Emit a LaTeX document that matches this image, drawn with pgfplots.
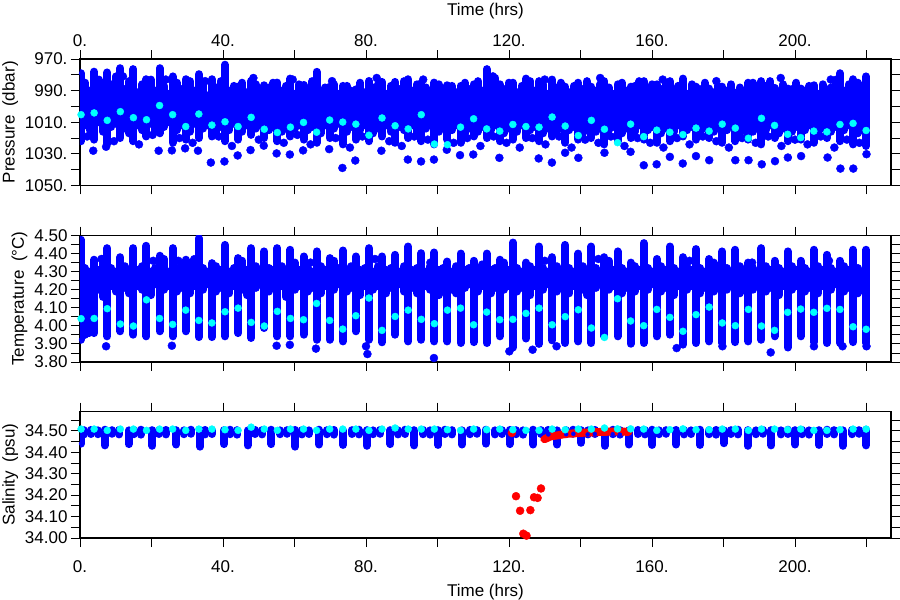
\documentclass[border=0pt]{standalone}
\usepackage{fontspec}
\setmainfont{Liberation Sans}
\usepackage{pgfplots}
\usepackage{pgfplotstable}
\pgfplotsset{compat=1.18}

% ---------- Pressure columns (t, top, bottom) ----------
\pgfplotstableread{
t lo hi
0.3 979 1022
3.96 978 1021
7.62 978.5 1024
11.28 975.8 1020
14.94 976.4 1022
18.6 982.8 1019
22.26 975.8 1017
25.92 981 1023
29.58 982.8 1021
33.24 979.6 1020
36.9 982.8 1019
40.56 973.6 1022
44.22 987.5 1021
47.88 983.9 1018
51.54 986.6 1020
55.2 984.9 1022
58.86 982.4 1019
62.52 986.4 1021
66.18 978.1 1023
69.84 987.5 1020
73.5 987 1024
77.16 989.2 1021
80.82 983.9 1022
84.48 984.5 1019
88.14 984.5 1023
91.8 982.8 1020
95.46 985.4 1022
99.12 984.9 1024
102.78 986.6 1021
106.44 987 1023
110.1 986 1019
113.76 976.4 1020
117.42 986 1022
121.08 985 1021
124.74 982.4 1020
128.4 984 1022
132.06 983 1019
135.72 987.5 1023
139.38 985 1021
143.04 987.5 1020
146.7 984 1024
150.36 986 1022
154.02 987.5 1020
157.68 984 1021
161.34 986 1023
165.0 984 1022
168.66 982.4 1019
172.32 987.5 1021
175.98 988.7 1020
179.64 987.5 1023
183.3 991.3 1022
186.96 985 1021
190.62 984 1024
194.28 988.3 1020
197.94 988.7 1022
201.6 988.7 1021
205.26 986.6 1023
208.92 989.2 1020
212.58 979 1022
216.24 982.8 1024
219.9 981 1025
1.5 985 1012
2.7 990 1015
5.2 983 1010
6.4 988 1016
8.8 986 1013
10.0 981 1011
12.5 989 1014
13.7 984 1017
16.1 991 1012
17.4 986 1015
19.8 983 1011
21.0 990 1016
23.5 987 1013
24.7 992 1010
27.1 985 1015
28.4 989 1012
30.8 984 1016
32.0 990 1011
34.5 986 1014
35.7 993 1012
38.1 988 1017
39.3 984 1013
41.8 990 1015
43.0 987 1011
45.4 985 1016
46.7 991 1012
49.1 986 1014
50.3 992 1010
52.8 988 1015
54.0 985 1013
56.4 990 1016
57.6 987 1011
60.1 992 1014
61.3 986 1012
63.7 989 1015
65.0 984 1013
67.4 991 1017
68.6 988 1012
71.1 986 1014
72.3 992 1011
74.7 987 1016
75.9 990 1013
78.4 985 1015
79.6 991 1012
82.0 988 1017
83.3 986 1014
85.7 992 1012
86.9 987 1016
89.4 989 1013
90.6 984 1015
93.0 990 1012
94.2 986 1017
96.7 988 1014
97.9 992 1011
100.3 986 1016
101.6 990 1013
104.0 987 1015
105.2 991 1012
107.7 985 1017
108.9 989 1014
111.3 984 1016
112.5 990 1013
115.0 986 1015
116.2 982 1012
118.6 989 1017
119.9 985 1014
122.3 991 1016
123.5 987 1012
126.0 984 1015
127.2 990 1013
129.6 986 1017
130.8 992 1014
133.3 988 1016
134.5 985 1012
136.9 991 1015
138.2 987 1013
140.6 989 1017
141.8 984 1014
144.3 990 1016
145.5 986 1012
147.9 988 1015
149.1 992 1013
151.6 985 1017
152.8 990 1014
155.2 987 1016
156.5 984 1012
158.9 991 1015
160.1 986 1013
162.6 989 1017
163.8 985 1014
166.2 990 1016
167.4 987 1012
169.9 992 1015
171.1 986 1013
173.5 989 1017
174.8 985 1014
177.2 991 1016
178.4 987 1013
180.9 990 1015
182.1 986 1012
184.5 988 1017
185.7 992 1014
188.2 985 1016
189.4 990 1013
191.8 987 1015
193.1 984 1012
195.5 991 1017
196.7 986 1014
199.2 989 1016
200.4 985 1013
202.8 990 1015
204.0 987 1012
206.5 992 1017
207.7 986 1014
210.1 988 1016
211.4 983 1013
213.8 990 1015
215.0 986 1012
217.5 985 1017
218.7 989 1014
}\pcols

% ---------- Temperature columns (t, bottom, top) ----------
\pgfplotstableread{
t lo hi
0.3 3.923 4.476
3.96 3.960 4.366
7.62 3.942 4.430
11.28 3.970 4.380
14.94 3.951 4.430
18.6 3.942 4.443
22.26 3.970 4.388
25.92 3.942 4.430
29.58 3.970 4.366
33.24 3.938 4.485
36.9 3.938 4.347
40.56 3.942 4.448
44.22 3.960 4.375
47.88 3.933 4.430
51.54 3.988 4.412
55.2 3.942 4.430
58.86 3.942 4.421
62.52 3.951 4.384
66.18 3.923 4.412
69.84 3.923 4.375
73.5 3.914 4.417
77.16 3.970 4.384
80.82 3.923 4.430
84.48 3.909 4.384
88.14 3.951 4.393
91.8 3.914 4.439
95.46 3.923 4.402
99.12 3.914 4.406
102.78 3.914 4.356
106.44 3.905 4.400
110.1 3.910 4.360
113.76 3.905 4.400
117.42 3.942 4.366
121.08 3.880 4.461
124.74 3.930 4.350
128.4 3.900 4.439
132.06 3.920 4.380
135.72 3.905 4.448
139.38 3.914 4.400
143.04 3.905 4.439
146.7 3.942 4.380
150.36 3.942 4.412
154.02 3.901 4.350
157.68 3.905 4.458
161.34 3.942 4.370
165.0 3.951 4.439
168.66 3.896 4.380
172.32 3.905 4.425
175.98 3.914 4.370
179.64 3.905 4.412
183.3 3.910 4.421
186.96 3.914 4.350
190.62 3.923 4.430
194.28 3.942 4.360
197.94 3.880 4.412
201.6 3.942 4.360
205.26 3.910 4.421
208.92 3.905 4.393
212.58 3.905 4.360
216.24 3.910 4.421
219.9 3.905 4.421
1.3 3.95 4.32
2.4 3.96 4.30
5.2 4.20 4.31
6.4 4.16 4.37
8.8 4.22 4.32
10.0 4.19 4.30
12.5 4.21 4.33
13.7 4.18 4.29
16.1 4.22 4.31
17.4 4.20 4.33
19.8 4.17 4.30
21.0 4.23 4.32
23.5 4.20 4.37
24.7 4.22 4.30
27.1 4.19 4.32
28.4 4.21 4.34
30.8 4.18 4.31
32.0 4.22 4.37
34.5 4.20 4.32
35.7 4.23 4.30
38.1 4.19 4.33
39.3 4.21 4.31
41.8 4.18 4.30
43.0 4.22 4.32
45.4 4.20 4.36
46.7 4.17 4.31
49.1 4.21 4.33
50.3 4.23 4.30
52.8 4.19 4.32
54.0 4.21 4.31
56.4 4.22 4.33
57.6 4.16 4.30
60.1 4.20 4.35
61.3 4.22 4.31
63.7 4.19 4.32
65.0 4.21 4.30
67.4 4.18 4.33
68.6 4.22 4.31
71.1 4.20 4.36
72.3 4.23 4.32
74.7 4.19 4.30
75.9 4.21 4.33
78.4 4.17 4.31
79.6 4.22 4.32
82.0 4.20 4.30
83.3 4.22 4.33
85.7 4.18 4.31
86.9 4.21 4.32
89.4 4.23 4.30
90.6 4.19 4.33
93.0 4.21 4.31
94.2 4.18 4.32
96.7 4.22 4.30
97.9 4.20 4.33
100.3 4.17 4.31
101.6 4.22 4.32
104.0 4.20 4.30
105.2 4.18 4.33
107.7 4.21 4.31
108.9 4.23 4.32
111.3 4.19 4.30
112.5 4.22 4.34
115.0 4.18 4.31
116.2 4.21 4.32
118.6 4.20 4.35
119.9 4.22 4.31
122.3 4.19 4.32
123.5 4.21 4.30
126.0 4.17 4.33
127.2 4.22 4.31
129.6 4.20 4.32
130.8 4.23 4.30
133.3 4.19 4.33
134.5 4.21 4.31
136.9 4.18 4.32
138.2 4.22 4.30
140.6 4.20 4.33
141.8 4.17 4.31
144.3 4.21 4.32
145.5 4.23 4.30
147.9 4.20 4.36
149.1 4.22 4.31
151.6 4.18 4.32
152.8 4.21 4.30
155.2 4.19 4.33
156.5 4.22 4.31
158.9 4.20 4.32
160.1 4.23 4.30
162.6 4.19 4.33
163.8 4.21 4.31
166.2 4.17 4.32
167.4 4.22 4.30
169.9 4.20 4.33
171.1 4.22 4.31
173.5 4.18 4.32
174.8 4.21 4.30
177.2 4.19 4.35
178.4 4.22 4.31
180.9 4.20 4.32
182.1 4.23 4.30
184.5 4.18 4.33
185.7 4.21 4.31
188.2 4.20 4.32
189.4 4.22 4.30
191.8 4.19 4.33
193.1 4.21 4.31
195.5 4.17 4.32
196.7 4.22 4.30
199.2 4.20 4.33
200.4 4.22 4.31
202.8 4.19 4.32
204.0 4.21 4.30
206.5 4.18 4.33
207.7 4.22 4.31
210.1 4.20 4.32
211.4 4.23 4.30
213.8 4.19 4.33
215.0 4.21 4.31
217.5 4.18 4.32
218.7 4.22 4.30
}\tcols

% ---------- Salinity columns (t, bottom, top) ----------
\pgfplotstableread{
t lo hi
0.3 34.440 34.503
1 34.483 34.503
3 34.485 34.504
5 34.484 34.502
6.96 34.432 34.505
9 34.486 34.503
11 34.483 34.504
13.62 34.438 34.502
15 34.484 34.503
17 34.482 34.505
20.27 34.430 34.503
22 34.485 34.502
24 34.483 34.504
26.93 34.436 34.503
29 34.484 34.502
31 34.486 34.505
33.59 34.426 34.503
35 34.483 34.504
37 34.485 34.502
40.25 34.438 34.503
42 34.484 34.505
44 34.482 34.503
46.91 34.432 34.502
49 34.485 34.504
51 34.483 34.503
53.56 34.438 34.505
56 34.484 34.502
58 34.486 34.503
60.22 34.426 34.504
62 34.483 34.503
64 34.485 34.502
66.88 34.436 34.505
69 34.484 34.503
71 34.482 34.504
73.54 34.434 34.502
76 34.485 34.503
78 34.483 34.505
80.2 34.430 34.503
82 34.484 34.502
84 34.486 34.504
86.85 34.438 34.503
89 34.483 34.502
91 34.485 34.505
93.51 34.432 34.503
96 34.484 34.504
98 34.482 34.502
100.17 34.434 34.503
102 34.485 34.505
104 34.483 34.503
106.83 34.436 34.502
109 34.484 34.504
111 34.486 34.503
113.49 34.440 34.505
116 34.483 34.502
118 34.485 34.503
120.14 34.438 34.504
122 34.484 34.503
124 34.482 34.502
126.8 34.436 34.505
129 34.485 34.503
131 34.483 34.504
133.46 34.436 34.502
136 34.484 34.503
138 34.486 34.505
140.12 34.444 34.503
142 34.483 34.502
144 34.485 34.504
146.78 34.430 34.503
149 34.484 34.505
151 34.482 34.503
153.43 34.436 34.502
156 34.485 34.504
158 34.483 34.503
160.09 34.434 34.505
162 34.484 34.502
164 34.486 34.503
166.75 34.436 34.504
169 34.483 34.503
171 34.485 34.502
173.41 34.434 34.505
176 34.484 34.503
178 34.482 34.504
180.07 34.442 34.502
182 34.485 34.503
184 34.483 34.505
186.72 34.430 34.503
189 34.484 34.502
191 34.486 34.504
193.38 34.432 34.503
196 34.483 34.502
198 34.485 34.505
200.04 34.436 34.503
202 34.484 34.504
204 34.482 34.502
206.7 34.434 34.503
209 34.485 34.505
211 34.483 34.503
213.36 34.430 34.502
216 34.484 34.504
218 34.486 34.503
219.9 34.432 34.505
}\scols

% ---------- Cyan subsample (t, P, T, S) ----------
\pgfplotstableread{
t p T S
0.3 1005.2 4.040 34.508
3.96 1004.1 4.041 34.508
7.62 1008.8 4.095 34.502
11.28 1003.3 4.010 34.508
14.94 1007.1 3.999 34.508
18.6 1008.4 4.144 34.502
22.26 999.4 4.041 34.508
25.92 1005.2 4.008 34.508
29.58 1012.7 4.087 34.502
33.24 1004.8 4.030 34.508
36.9 1011.8 4.016 34.508
40.56 1009.7 4.078 34.505
44.22 1012.7 4.098 34.502
47.88 1006.9 4.019 34.517
51.54 1014.4 3.999 34.508
55.2 1016.5 4.080 34.502
58.86 1013.1 4.041 34.508
62.52 1010.1 4.034 34.508
66.18 1016.3 4.124 34.502
69.84 1008.6 4.030 34.508
73.5 1009.9 3.982 34.508
77.16 1011.2 4.056 34.508
80.82 1018.2 4.154 34.502
84.48 1007.3 3.975 34.508
88.14 1012.2 4.052 34.513
91.8 1014.2 4.087 34.508
95.46 1005.2 4.036 34.508
99.12 1023.8 4.012 34.508
102.78 1024.2 4.087 34.505
106.44 1013.1 4.098 34.502
110.1 1007.8 4.006 34.508
113.76 1014.2 4.076 34.505
117.42 1015.6 4.034 34.508
121.08 1011.4 4.036 34.505
124.74 1012.7 4.069 34.502
128.4 1013.1 4.098 34.502
132.06 1006.7 4.006 34.508
135.72 1012.4 4.051 34.505
139.38 1018.4 4.089 34.508
143.04 1008.8 3.988 34.508
146.7 1014.4 3.936 34.513
150.36 1022.9 4.150 34.509
154.02 1011.2 4.027 34.509
157.68 1019.1 4.001 34.508
161.34 1015.0 4.091 34.502
165.0 1016.3 4.047 34.505
168.66 1017.8 3.970 34.509
172.32 1013.7 4.062 34.505
175.98 1015.6 4.104 34.505
179.64 1011.2 4.016 34.508
183.3 1013.7 4.001 34.508
186.96 1020.1 4.091 34.502
190.62 1007.5 3.999 34.508
194.28 1012.0 3.975 34.508
197.94 1017.6 4.075 34.505
201.6 1019.7 4.093 34.508
205.26 1015.6 4.075 34.502
208.92 1016.1 4.097 34.502
212.58 1011.4 4.091 34.505
216.24 1010.7 3.995 34.508
219.9 1015.2 3.981 34.508
}\cyantab

\definecolor{cy}{RGB}{0,255,255}

\pgfplotsset{
  panel/.style={
    scale only axis, width=811pt, height=126.5pt,
    xmin=0, xmax=226.85,
    axis line style={line width=1.1pt},
    tick style={black, line width=0.9pt},
    tick align=outside, major tick length=9pt,
    xtick={0,20,...,220},
    xtick pos=both, ytick pos=both,
    xticklabels={,,,,,,,,,,,},
    ticklabel style={font=\fontsize{17}{20}\selectfont},
    label style={font=\fontsize{17}{20}\selectfont},
    anchor=south west,
  },
  cols/.style={blue, only marks, mark=none,
    error bars/.cd, y dir=plus, y explicit, error mark=none,
    error bar style={line width=8pt, line cap=round, blue}},
  dots/.style={blue, only marks, mark=*, mark size=4pt},
  cyandots/.style={cy, only marks, mark=*, mark size=3.5pt, mark options={draw=cy, fill=cy}},
}

\begin{document}
\begin{tikzpicture}
\useasboundingbox (0,0) rectangle (900pt,600pt);

% ---------------- Pressure ----------------
\begin{axis}[panel, at={(80pt,414.5pt)},
  ymin=970, ymax=1050, y dir=reverse,
  ytick={970,980,...,1050},
  yticklabels={970.,,990.,,1010.,,1030.,,1050.},
  xticklabel pos=upper,
  xticklabels={0.,,40.,,80.,,120.,,160.,,200.,},
  xticklabel style={anchor=center, yshift=9.5pt},
  xlabel={Time (hrs)},
  xlabel style={at={(axis description cs:0.5,1)}, anchor=center, yshift=47.5pt},
  ylabel={Pressure\hspace{0.5em}(dbar)},
]
\addplot[cols] table[x=t, y=lo, y error plus expr=\thisrow{hi}-\thisrow{lo}] {\pcols};
\addplot[dots] coordinates {
(3.7,1028) (7.3,1025.5) (22.0,1028) (25.7,1027.8) (29.4,1026.5) (33.0,1028)
(36.6,1035.5) (40.4,1034.8) (44.1,1031) (47.7,1027.6) (51.4,1024.8) (55.0,1029.7)
(58.7,1030.4) (62.4,1027.8) (69.7,1027) (73.4,1038.9) (77.0,1034.2) (84.3,1028)
(91.7,1033.6) (95.4,1034.8) (99.0,1033.6) (102.6,1027.4)
(106.3,1030.8) (110.0,1030.4) (117.3,1032.5) (128.3,1032.9) (132.0,1035.5)
(135.7,1029.3) (139.4,1032.5) (146.7,1029.3) (154.0,1028.7) (157.7,1037.2)
(161.3,1036.6) (165.0,1031.9) (168.6,1036.1) (172.3,1031.4) (176.0,1034)
(183.3,1034) (187.0,1034) (190.7,1036.6) (194.4,1034.6) (198.0,1032.3)
(201.7,1031.4) (209.1,1032.3) (212.7,1039.3) (216.3,1039.3) (220.0,1030.2)
(2.0,1019) (9.5,1022) (16.5,1024) (20.3,1018) (27.8,1020) (31.5,1023)
(38.8,1019) (42.5,1025) (50.0,1021) (57.0,1023) (60.8,1018) (64.5,1024)
(71.5,1020) (75.5,1026) (79.0,1019) (86.5,1022) (90.0,1025) (93.5,1019)
(97.3,1021) (104.5,1023) (108.3,1020) (112.0,1025) (115.7,1019) (119.3,1023)
(123.0,1026) (126.5,1020) (130.2,1024) (134.0,1019) (137.5,1026) (141.3,1021)
(145.0,1023) (148.5,1019) (152.3,1025) (156.0,1020) (159.5,1023) (163.2,1026)
(167.0,1020) (170.5,1024) (174.2,1019) (178.0,1022) (181.5,1026) (185.2,1020)
(189.0,1023) (192.5,1019) (196.2,1025) (200.0,1021) (203.5,1024) (207.2,1019)
(211.0,1026) (214.5,1021) (218.0,1023)
(12.0,981) (24.0,983) (35.0,984) (48.5,982) (59.5,983) (70.5,984) (83.0,982)
(96.0,983) (115.5,981) (130.0,983) (145.5,982) (163.0,983) (178.0,984)
(196.0,982) (210.0,983)
};
\addplot[cyandots] table[x=t, y=p] {\cyantab};
\end{axis}

% ---------------- Temperature ----------------
\begin{axis}[panel, at={(80pt,238pt)},
  ymin=3.8, ymax=4.5,
  ytick={3.8,3.85,3.9,3.95,4.0,4.05,4.1,4.15,4.2,4.25,4.3,4.35,4.4,4.45,4.5},
  yticklabels={3.80,,3.90,,4.00,,4.10,,4.20,,4.30,,4.40,,4.50},
  ylabel={Temperature\hspace{0.5em}(°C)},
]
\addplot[cols] table[x=t, y=lo, y error plus expr=\thisrow{hi}-\thisrow{lo}] {\tcols};
\addplot[dots] coordinates {
(7.3,3.887) (25.7,3.89) (55.0,3.89) (58.7,3.895) (66.0,3.874) (80.0,3.887)
(80.4,3.844) (99.0,3.822) (120.1,3.859) (126.6,3.868) (133.3,3.887) (166.9,3.877)
(179.7,3.887) (193.2,3.853) (205.3,3.887) (213.3,3.887) (220.0,3.887)
(6.0,4.37) (20.5,4.36) (27.5,4.36) (44.9,4.36) (64.5,4.35) (82.5,4.37)
(98.0,4.35) (130.0,4.36) (145.0,4.37) (170.5,4.36) (188.0,4.35) (209.5,4.36)
};
\addplot[cyandots] table[x=t, y=T] {\cyantab};
\end{axis}

% ---------------- Salinity ----------------
\begin{axis}[panel, at={(80pt,62pt)},
  ymin=34.0, ymax=34.59,
  ytick={34.0,34.05,34.1,34.15,34.2,34.25,34.3,34.35,34.4,34.45,34.5,34.55},
  yticklabels={34.00,,34.10,,34.20,,34.30,,34.40,,34.50,},
  xticklabels={0.,,40.,,80.,,120.,,160.,,200.,},
  xticklabel style={anchor=center, yshift=-20pt},
  xlabel={Time (hrs)},
  xlabel style={at={(axis description cs:0.5,0)}, anchor=center, yshift=-54pt},
  ylabel={Salinity\hspace{0.5em}(psu)},
]
\addplot[cols] table[x=t, y=lo, y error plus expr=\thisrow{hi}-\thisrow{lo}] {\scols};
\addplot[red, line width=8pt, line cap=round, line join=round] coordinates {
(129.9,34.461) (130.6,34.466) (131.5,34.473) (132.4,34.476) (133.3,34.478)
(134.7,34.482) (136.1,34.486) (137.5,34.487) (138.9,34.489) (140.8,34.491)
(142.7,34.492) (144.5,34.494) (146.4,34.495) (148.3,34.496) (150.1,34.497)
(151.8,34.496) (153.4,34.495)
};
\addplot[red, only marks, mark=*, mark size=4pt] coordinates {
(120.8,34.490) (121.96,34.195) (123.1,34.127) (124.0,34.02) (124.9,34.011)
(125.97,34.13) (127.0,34.19) (128.0,34.187) (128.95,34.231)
};
\addplot[cyandots] table[x=t, y=S] {\cyantab};
\end{axis}
\end{tikzpicture}
\end{document}
